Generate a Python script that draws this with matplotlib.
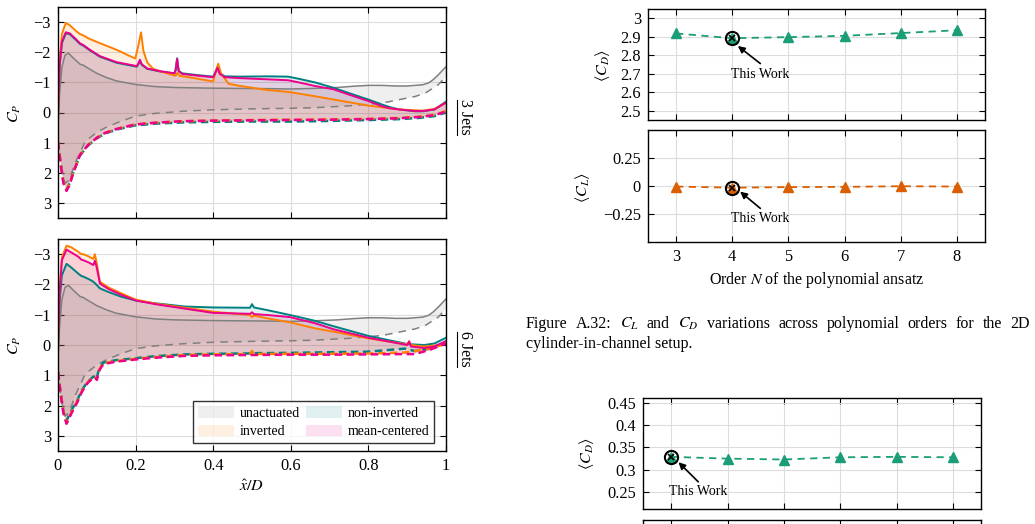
import matplotlib

matplotlib.use('Agg')
import matplotlib.pyplot as plt
import numpy as np
from matplotlib.lines import Line2D
from matplotlib.patches import Patch
from matplotlib.ticker import FuncFormatter

plt.rcParams['font.family'] = ['Liberation Serif', 'DejaVu Serif']
plt.rcParams['mathtext.fontset'] = 'stix'

W, H = 1035, 524

# ---- pressure coefficient data ----
# unactuated, same in both panels
x_unact = [0, 0.004, 0.01, 0.018, 0.027, 0.04, 0.057, 0.065, 0.08, 0.1, 0.125, 0.15, 0.2, 0.25, 0.3,
           0.383, 0.45, 0.55, 0.6, 0.662, 0.72, 0.76, 0.8, 0.834, 0.87, 0.9, 0.94, 0.955, 0.967, 0.98, 1.0]
cp_unact = [0.47, -0.6, -1.5, -1.9, -1.97, -1.8, -1.6, -1.57, -1.45, -1.3, -1.16, -1.05, -0.93, -0.86, -0.83,
            -0.81, -0.8, -0.79, -0.78, -0.8, -0.83, -0.87, -0.9, -0.9, -0.88, -0.88, -0.92, -0.98, -1.09, -1.25, -1.52]
x_unact_d = [0, 0.008, 0.018, 0.028, 0.045, 0.07, 0.1, 0.121, 0.16, 0.2, 0.25, 0.32, 0.4, 0.5, 0.6, 0.662,
             0.75, 0.834, 0.877, 0.92, 0.946, 0.98, 1.0]
cp_unact_d = [0.9, 1.8, 2.35, 2.25, 1.65, 0.96, 0.66, 0.51, 0.3, 0.12, 0.03, -0.04, -0.09, -0.12, -0.14, -0.16,
              -0.22, -0.31, -0.42, -0.53, -0.64, -0.92, -1.2]

# 3 jets
x3_inv = [0, 0.004, 0.01, 0.02, 0.03, 0.045, 0.057, 0.065, 0.08, 0.108, 0.151, 0.199, 0.205, 0.214, 0.22, 0.23,
          0.245, 0.288, 0.303, 0.308, 0.313, 0.36, 0.4, 0.406, 0.413, 0.42, 0.44, 0.47, 0.538, 0.595, 0.662, 0.71,
          0.8, 0.88, 0.94, 0.97, 1.0]
cp3_inv = [0.0, -1.6, -2.6, -2.97, -2.9, -2.72, -2.6, -2.56, -2.45, -2.3, -2.08, -1.79, -2.1, -2.66, -2.05, -1.66,
           -1.45, -1.27, -1.22, -1.32, -1.22, -1.12, -1.03, -1.35, -1.62, -1.3, -0.95, -0.88, -0.75, -0.68, -0.54,
           -0.43, -0.23, -0.1, -0.06, -0.12, -0.32]
x3_non = [0, 0.004, 0.01, 0.02, 0.03, 0.045, 0.057, 0.065, 0.08, 0.108, 0.151, 0.203, 0.207, 0.211, 0.216, 0.23,
          0.263, 0.3, 0.303, 0.307, 0.311, 0.32, 0.36, 0.4, 0.406, 0.411, 0.417, 0.43, 0.469, 0.54, 0.593, 0.62,
          0.662, 0.71, 0.76, 0.8, 0.834, 0.855, 0.88, 0.92, 0.94, 0.97, 1.0]
cp3_non = [0.0, -1.5, -2.3, -2.62, -2.6, -2.42, -2.27, -2.22, -2.08, -1.85, -1.65, -1.52, -1.6, -1.72, -1.58, -1.45,
           -1.36, -1.3, -1.4, -1.8, -1.38, -1.3, -1.24, -1.19, -1.35, -1.5, -1.3, -1.2, -1.19, -1.2, -1.19, -1.12,
           -1.0, -0.82, -0.6, -0.43, -0.27, -0.18, -0.1, -0.04, -0.04, -0.1, -0.36]
cp3_mean = [0.0, -1.55, -2.35, -2.66, -2.63, -2.45, -2.29, -2.24, -2.1, -1.87, -1.67, -1.54, -1.62, -1.75, -1.6, -1.46,
            -1.37, -1.3, -1.4, -1.78, -1.38, -1.28, -1.22, -1.17, -1.33, -1.48, -1.28, -1.17, -1.14, -1.1, -1.07, -1.0,
            -0.88, -0.77, -0.55, -0.38, -0.21, -0.14, -0.1, -0.05, -0.05, -0.1, -0.33]
x3_d = [0, 0.006, 0.014, 0.022, 0.03, 0.04, 0.057, 0.078, 0.1, 0.121, 0.15, 0.198, 0.25, 0.32, 0.4, 0.5, 0.6, 0.7,
        0.8, 0.88, 0.93, 0.97, 1.0]
cp3_inv_d = [0.96, 1.6, 2.3, 2.57, 2.35, 1.96, 1.4, 1.07, 0.84, 0.68, 0.55, 0.4, 0.34, 0.29, 0.27, 0.25, 0.24, 0.23,
             0.21, 0.18, 0.14, 0.08, -0.05]
cp3_non_d = [0.96, 1.6, 2.3, 2.55, 2.35, 1.96, 1.42, 1.09, 0.86, 0.7, 0.57, 0.43, 0.37, 0.33, 0.31, 0.3, 0.3, 0.28,
             0.25, 0.22, 0.18, 0.12, 0.0]
cp3_mean_d = [0.98, 1.65, 2.35, 2.6, 2.4, 1.98, 1.4, 1.07, 0.84, 0.68, 0.55, 0.4, 0.34, 0.29, 0.27, 0.26, 0.25, 0.24,
              0.22, 0.19, 0.15, 0.09, -0.03]

# 6 jets
x6_inv = [0, 0.004, 0.01, 0.022, 0.035, 0.052, 0.06, 0.065, 0.08, 0.091, 0.095, 0.1, 0.108, 0.13, 0.164, 0.2, 0.25,
          0.327, 0.4, 0.495, 0.5, 0.505, 0.54, 0.598, 0.662, 0.71, 0.8, 0.9, 0.905, 0.91, 0.944, 0.97, 1.0]
cp6_inv = [0.0, -1.8, -2.9, -3.28, -3.22, -3.08, -3.0, -3.0, -2.92, -2.84, -3.0, -2.7, -2.09, -1.9, -1.7, -1.5, -1.37,
           -1.23, -1.1, -0.99, -0.92, -0.97, -0.88, -0.75, -0.55, -0.44, -0.22, -0.02, -0.12, 0.0, 0.05, 0.02, -0.05]
cp6_mean = [0.0, -1.7, -2.8, -3.15, -3.05, -2.92, -2.82, -2.8, -2.72, -2.64, -2.78, -2.55, -2.03, -1.85, -1.65, -1.47,
            -1.35, -1.2, -1.06, -1.03, -1.08, -1.02, -0.99, -0.92, -0.72, -0.52, -0.24, 0.0, -0.12, 0.05, 0.1, 0.05,
            -0.13]
x6_non = [0, 0.004, 0.01, 0.022, 0.035, 0.052, 0.06, 0.065, 0.08, 0.091, 0.1, 0.108, 0.13, 0.164, 0.2, 0.25, 0.327,
          0.4, 0.495, 0.5, 0.505, 0.54, 0.598, 0.662, 0.71, 0.8, 0.894, 0.9, 0.944, 0.97, 1.0]
cp6_non = [0.0, -1.4, -2.3, -2.68, -2.55, -2.36, -2.28, -2.26, -2.17, -2.09, -1.98, -1.87, -1.75, -1.59, -1.47, -1.38,
           -1.27, -1.24, -1.23, -1.35, -1.24, -1.15, -0.99, -0.8, -0.62, -0.3, -0.05, -0.03, 0.0, -0.05, -0.24]
x6_d = [0, 0.006, 0.014, 0.022, 0.035, 0.05, 0.061, 0.07, 0.078, 0.088, 0.095, 0.1, 0.104, 0.108, 0.117, 0.15, 0.198,
        0.25, 0.327, 0.4, 0.495, 0.5, 0.505, 0.6, 0.7, 0.8, 0.894, 0.92, 0.96, 1.0]
cp6_inv_d = [0.88, 1.5, 2.2, 2.58, 2.2, 1.85, 1.54, 1.35, 1.21, 1.1, 1.04, 1.15, 0.9, 0.77, 0.6, 0.53, 0.46, 0.4, 0.33,
             0.31, 0.3, 0.2, 0.3, 0.29, 0.29, 0.28, 0.25, 0.2, 0.12, -0.05]
cp6_non_d = [0.88, 1.5, 2.2, 2.5, 2.15, 1.82, 1.5, 1.33, 1.2, 1.08, 1.02, 1.1, 0.88, 0.75, 0.58, 0.5, 0.44, 0.37, 0.31,
             0.29, 0.28, 0.27, 0.27, 0.26, 0.24, 0.22, 0.12, 0.2, 0.12, -0.08]
cp6_mean_d = [0.9, 1.55, 2.25, 2.6, 2.25, 1.88, 1.56, 1.37, 1.23, 1.12, 1.06, 1.15, 0.92, 0.8, 0.63, 0.55, 0.48, 0.42,
              0.36, 0.34, 0.33, 0.33, 0.33, 0.32, 0.32, 0.31, 0.3, 0.3, 0.15, -0.05]

# ---- polynomial order study ----
orders = [3, 4, 5, 6, 7, 8]
cd_channel = [2.918, 2.892, 2.898, 2.905, 2.92, 2.935]
cl_channel = [-0.005, -0.015, -0.01, -0.008, -0.002, -0.005]
cd_second = [0.329, 0.325, 0.323, 0.328, 0.329, 0.328]

labels = ['unactuated', 'inverted', 'non-inverted', 'mean-centered']
colors = {'unactuated': '#808080', 'inverted': '#ff8000', 'non-inverted': '#008080', 'mean-centered': '#ec008c'}
fill_alpha = 0.12
green, orange = '#1b9e77', '#d95f02'
TXT = 11.5

fig = plt.figure(figsize=(W / 100, H / 100), dpi=100)


def px_axes(l, t, r, b):
    return fig.add_axes([l / W, 1 - b / H, (r - l) / W, (b - t) / H])


def style(ax):
    ax.tick_params(direction='in', top=True, right=True, length=4, width=0.8, labelsize=11.8, pad=5)
    ax.grid(True, color='#dcdcdc', lw=0.8)
    ax.set_axisbelow(True)
    for s in ax.spines.values():
        s.set_linewidth(1.0)


fmt = FuncFormatter(lambda v, p: f'{v:g}'.replace('-', '\u2212'))


def cp_panel(ax, cases):
    # cases: name -> (xs, ys, xd, yd)
    for name in ['unactuated', 'non-inverted', 'inverted', 'mean-centered']:
        xs, ys, xd, yd = cases[name]
        ax.fill(np.r_[xs, xd[::-1]], np.r_[ys, yd[::-1]], color=colors[name], alpha=fill_alpha, lw=0)
    for name in ['unactuated', 'non-inverted', 'inverted', 'mean-centered']:
        xs, ys, xd, yd = cases[name]
        lw = 1.1 if name == 'unactuated' else 1.4
        ax.plot(xs, ys, color=colors[name], lw=lw)
        if name == 'unactuated':
            ax.plot(xd, yd, color=colors[name], lw=1.1, dashes=(5, 4))
        else:
            ax.plot(xd, yd, color=colors[name], lw=1.8, dashes=(3, 1.8))
    ax.set_xlim(0, 1)
    ax.set_ylim(3.5, -3.5)
    ax.set_xticks([0, 0.2, 0.4, 0.6, 0.8, 1])
    ax.set_yticks([-3, -2, -1, 0, 1, 2, 3])
    ax.xaxis.set_major_formatter(fmt)
    ax.yaxis.set_major_formatter(fmt)
    style(ax)


unact = (np.array(x_unact), np.array(cp_unact), np.array(x_unact_d), np.array(cp_unact_d))
ax1 = px_axes(58, 7, 446, 218)
cp_panel(ax1, {
    'unactuated': unact,
    'inverted': (np.array(x3_inv), np.array(cp3_inv), np.array(x3_d), np.array(cp3_inv_d)),
    'non-inverted': (np.array(x3_non), np.array(cp3_non), np.array(x3_d), np.array(cp3_non_d)),
    'mean-centered': (np.array(x3_non), np.array(cp3_mean), np.array(x3_d), np.array(cp3_mean_d)),
})
ax1.tick_params(labelbottom=False)

ax2 = px_axes(58, 239, 446, 451)
cp_panel(ax2, {
    'unactuated': unact,
    'inverted': (np.array(x6_inv), np.array(cp6_inv), np.array(x6_d), np.array(cp6_inv_d)),
    'non-inverted': (np.array(x6_non), np.array(cp6_non), np.array(x6_d), np.array(cp6_non_d)),
    'mean-centered': (np.array(x6_inv), np.array(cp6_mean), np.array(x6_d), np.array(cp6_mean_d)),
})
handles = [Patch(facecolor=colors[n], alpha=fill_alpha, edgecolor='none') for n in labels]
leg = ax2.legend(handles, labels, ncol=2, loc='lower right', bbox_to_anchor=(0.969, 0.038), borderaxespad=0,
                 fontsize=10, frameon=True, fancybox=False, edgecolor='k', handlelength=2.6, handleheight=0.9,
                 handletextpad=0.4, columnspacing=0.4, borderpad=0.35, labelspacing=0.35)
leg.get_frame().set_linewidth(1.0)

fig.text(15 / W, 1 - 113 / H, '$C_P$', rotation=90, ha='center', va='center', fontsize=TXT)
fig.text(15 / W, 1 - 345 / H, '$C_P$', rotation=90, ha='center', va='center', fontsize=TXT)
fig.text(252 / W, 1 - 487 / H, r'$\hat{x}/D$', ha='center', va='center', fontsize=TXT)
for yc, (y0, y1), txt in [(117, (100, 135), '3 Jets'), (349, (332, 367), '6 Jets')]:
    fig.text(465 / W, 1 - yc / H, txt, rotation=-90, ha='center', va='center', fontsize=TXT)
    fig.add_artist(Line2D([457 / W, 457 / W], [1 - y0 / H, 1 - y1 / H], transform=fig.transFigure,
                          color='k', lw=0.8))


def order_panel(ax, vals, color, ylim, yticks):
    ax.plot(orders, vals, color=color, lw=1.3, dashes=(4, 3), marker='^', ms=6.5, mec=color, mfc=color)
    ax.set_xlim(2.5, 8.5)
    ax.set_ylim(*ylim)
    ax.set_xticks(orders)
    ax.set_yticks(yticks)
    ax.yaxis.set_major_formatter(fmt)
    style(ax)


def this_work(ax, xp, yp, head, tail, txt):
    ax.plot([xp], [yp], marker='o', ms=9.5, mfc='none', mec='k', mew=1.5)
    ax.plot([xp], [yp], marker='x', ms=5, mec='k', mew=1.2)
    ax.annotate('', xy=head, xytext=tail,
                arrowprops=dict(arrowstyle='-|>', color='k', lw=1.2, shrinkA=0, shrinkB=0, mutation_scale=10))
    ax.text(txt[0], txt[1], 'This Work', ha='center', va='center', fontsize=10)


ax3 = px_axes(648, 9, 985, 120)
order_panel(ax3, cd_channel, green, (2.45, 3.05), [2.5, 2.6, 2.7, 2.8, 2.9, 3.0])
ax3.tick_params(labelbottom=False)
this_work(ax3, orders[1], cd_channel[1], (4.1, 2.85), (4.5, 2.755), (4.5, 2.697))

ax4 = px_axes(648, 130, 985, 242)
order_panel(ax4, cl_channel, orange, (-0.5, 0.5), [-0.25, 0, 0.25])
this_work(ax4, orders[1], cl_channel[1], (4.14, -0.05), (4.5, -0.2), (4.5, -0.287))

fig.text(602 / W, 1 - 65 / H, r'$\langle C_D\rangle$', rotation=90, ha='center', va='center', fontsize=TXT)
fig.text(582 / W, 1 - 187 / H, r'$\langle C_L\rangle$', rotation=90, ha='center', va='center', fontsize=TXT)
fig.text(817 / W, 1 - 280 / H, 'Order $N$ of the polynomial ansatz', ha='center', va='center', fontsize=TXT)

# caption, justified over the column width
cap1 = ['Figure', 'A.32:', '$C_L$', 'and', '$C_D$', 'variations', 'across', 'polynomial', 'orders', 'for', 'the',
        '2D']
cap_texts = [fig.text(0, 1 - 328 / H, w, fontsize=TXT, va='baseline') for w in cap1]
fig.text(526 / W, 1 - 348 / H, 'cylinder-in-channel setup.', fontsize=TXT, va='baseline')
fig.canvas.draw()
rend = fig.canvas.get_renderer()
widths = [t.get_window_extent(rend).width for t in cap_texts]
gap = (504 - sum(widths)) / (len(widths) - 1)
xpos = 526
for t, w in zip(cap_texts, widths):
    t.set_x(xpos / W)
    xpos += w + gap

ax5 = px_axes(643, 398, 981, 509)
order_panel(ax5, cd_second, green, (0.212, 0.461), [0.25, 0.3, 0.35, 0.4, 0.45])
ax5.tick_params(labelbottom=False)
this_work(ax5, orders[0], cd_second[0], (3.13, 0.317), (3.48, 0.273), (3.48, 0.251))
fig.text(587 / W, 1 - 453 / H, r'$\langle C_D\rangle$', rotation=90, ha='center', va='center', fontsize=TXT)

# next panel, cut off by the page
ax6 = px_axes(643, 520, 981, 631)
ax6.set_xlim(2.5, 8.5)
ax6.set_xticks(orders)
ax6.set_yticks([])
style(ax6)
ax6.tick_params(labelbottom=False, labelleft=False)

fig.savefig('out.png', dpi=100)
